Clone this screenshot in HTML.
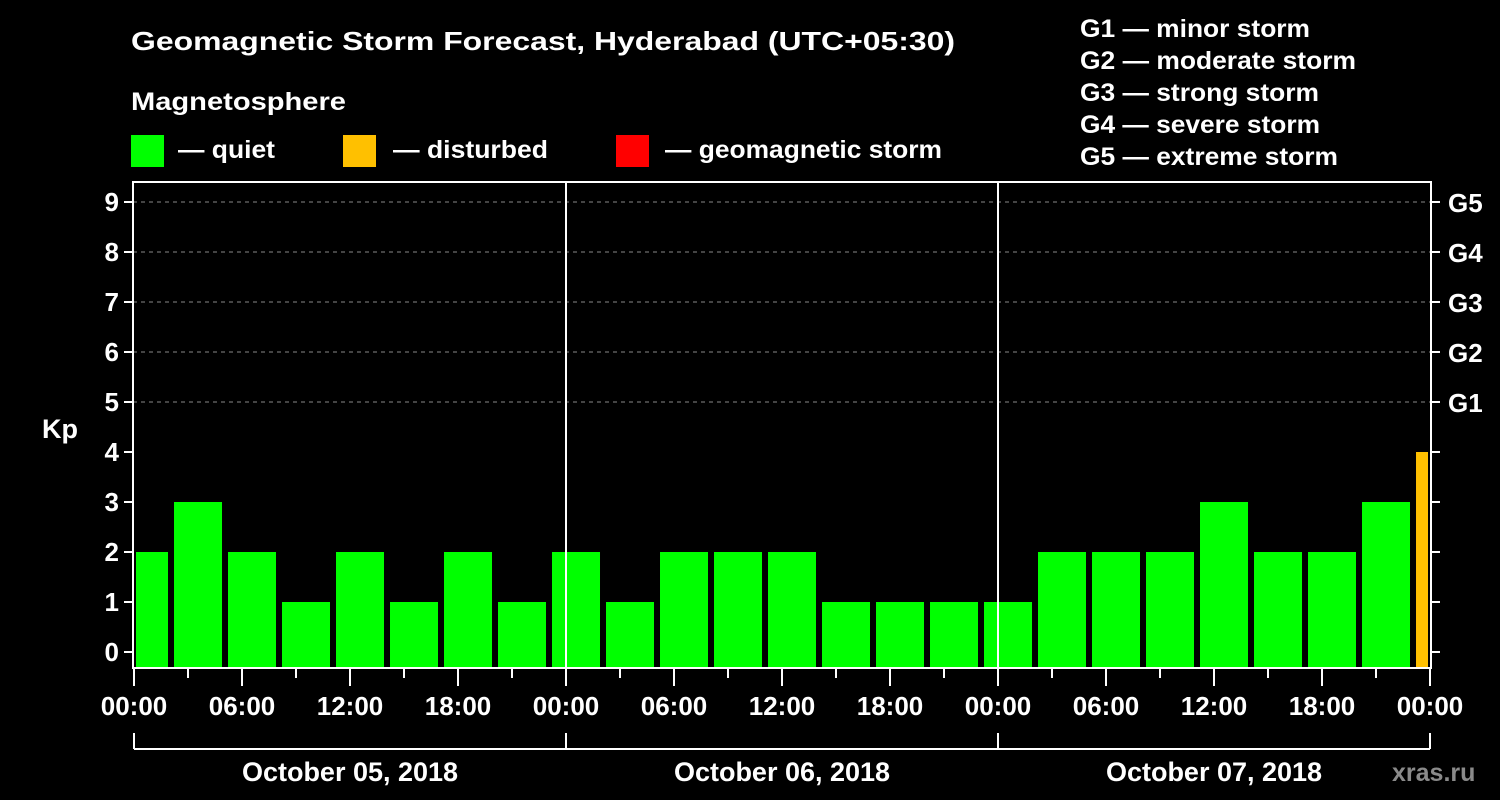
<!DOCTYPE html>
<html><head><meta charset="utf-8"><style>
html,body{margin:0;padding:0;background:#000;}
svg{display:block;}
text{font-family:"Liberation Sans",sans-serif;font-weight:bold;fill:#fff;}
</style></head><body>
<svg id="chart" width="1500" height="800" viewBox="0 0 1500 800" xmlns="http://www.w3.org/2000/svg">
<rect width="1500" height="800" fill="#000"/>
<text x="131" y="50" font-size="26" textLength="824" lengthAdjust="spacingAndGlyphs">Geomagnetic Storm Forecast, Hyderabad (UTC+05:30)</text>
<text x="131" y="110" font-size="25" textLength="215" lengthAdjust="spacingAndGlyphs">Magnetosphere</text>
<g><rect x="131" y="135" width="33" height="32" fill="#00ff00"/><text x="178" y="158" font-size="25" textLength="97" lengthAdjust="spacingAndGlyphs">— quiet</text></g>
<g><rect x="343" y="135" width="33" height="32" fill="#ffc000"/><text x="393" y="158" font-size="25" textLength="155" lengthAdjust="spacingAndGlyphs">— disturbed</text></g>
<g><rect x="616" y="135" width="33" height="32" fill="#ff0000"/><text x="665" y="158" font-size="25" textLength="277" lengthAdjust="spacingAndGlyphs">— geomagnetic storm</text></g>
<g font-size="25">
<text x="1080" y="37" textLength="230" lengthAdjust="spacingAndGlyphs">G1 — minor storm</text>
<text x="1080" y="69" textLength="276" lengthAdjust="spacingAndGlyphs">G2 — moderate storm</text>
<text x="1080" y="101" textLength="239" lengthAdjust="spacingAndGlyphs">G3 — strong storm</text>
<text x="1080" y="133" textLength="240" lengthAdjust="spacingAndGlyphs">G4 — severe storm</text>
<text x="1080" y="165" textLength="258" lengthAdjust="spacingAndGlyphs">G5 — extreme storm</text>
</g>
<text x="42" y="438" font-size="27">Kp</text>
<text x="1392" y="781" font-size="25" fill="#888" style="fill:#8a8a8a">xras.ru</text>
<g id="plot"></g>
</svg>
<script>
const kp = [2,3,2,1,2,1,2,1,2,1,2,2,2,1,1,1,1,2,2,2,3,2,2,3,4];
const yTicks = [0,1,2,3,4,5,6,7,8,9];
const gLabels = ["G1","G2","G3","G4","G5"];
const gLevels = [5,6,7,8,9];
const hourLabels = ["00:00","06:00","12:00","18:00"];
const days = ["October 05, 2018","October 06, 2018","October 07, 2018"];
const NS="http://www.w3.org/2000/svg";
const L=133,R=1431,T=182,B=668;
const y = v => 652 - v*50;
const x = h => 134 + h*18;
const g=document.getElementById('plot');
function mk(t,a){const e=document.createElementNS(NS,t);for(const k in a)e.setAttribute(k,a[k]);g.appendChild(e);return e;}
// clip
const defs=mk('defs',{});const cp=document.createElementNS(NS,'clipPath');cp.setAttribute('id','clip');
const cr=document.createElementNS(NS,'rect');cr.setAttribute('x',136);cr.setAttribute('y',T);cr.setAttribute('width',1292);cr.setAttribute('height',B-T-1);cp.appendChild(cr);defs.appendChild(cp);
// grid
gLevels.forEach(v=>{const e=mk('line',{x1:L,x2:R,y1:y(v),y2:y(v),stroke:'#888','stroke-dasharray':'4,4','stroke-width':1});

});
// bars
const bg=mk('g',{'clip-path':'url(#clip)'});
kp.forEach((v,i)=>{const start=x(i*3-0.944);const r=document.createElementNS(NS,'rect');
r.setAttribute('x',start+3);r.setAttribute('width',48);r.setAttribute('y',y(v));r.setAttribute('height',667-y(v));
r.setAttribute('fill',v>=5?'#ff0000':(v>=4?'#ffc000':'#00ff00'));


bg.appendChild(r);});
// day separators
[1,2].forEach(d=>{const e=mk('line',{x1:x(d*24),x2:x(d*24),y1:T,y2:B,stroke:'#fff','stroke-width':2});

});
// frame
const fr=mk('rect',{x:L,y:T,width:R-L,height:B-T,fill:'none',stroke:'#fff','stroke-width':2});


// y ticks
yTicks.forEach(v=>{mk('line',{x1:L-9,x2:L,y1:y(v),y2:y(v),stroke:'#fff','stroke-width':2});
mk('line',{x1:R,x2:R+9,y1:y(v),y2:y(v),stroke:'#fff','stroke-width':2});
const t=mk('text',{x:L-14,y:y(v)+9,'font-size':26,'text-anchor':'end'});t.textContent=v;

});
gLabels.forEach((s,i)=>{const t=mk('text',{x:1448,y:y(gLevels[i])+10,'font-size':26});t.textContent=s;

});
// x ticks
for(let h=0;h<=72;h+=3){const len=h%6===0?18:10;mk('line',{x1:x(h),x2:x(h),y1:B,y2:B+len,stroke:'#fff','stroke-width':2});}
for(let h=0;h<=72;h+=6){const t=mk('text',{x:x(h),y:715,'font-size':26,'text-anchor':'middle'});t.textContent=hourLabels[(h/6)%4];

}
// date bracket
mk('line',{x1:x(0),x2:x(72),y1:749,y2:749,stroke:'#fff','stroke-width':2});
for(let d=0;d<=3;d++)mk('line',{x1:x(d*24),x2:x(d*24),y1:733,y2:749,stroke:'#fff','stroke-width':2});
days.forEach((s,i)=>{const t=mk('text',{x:x(i*24+12),y:781,'font-size':27,'text-anchor':'middle'});t.textContent=s;

});
</script>
</body></html>
